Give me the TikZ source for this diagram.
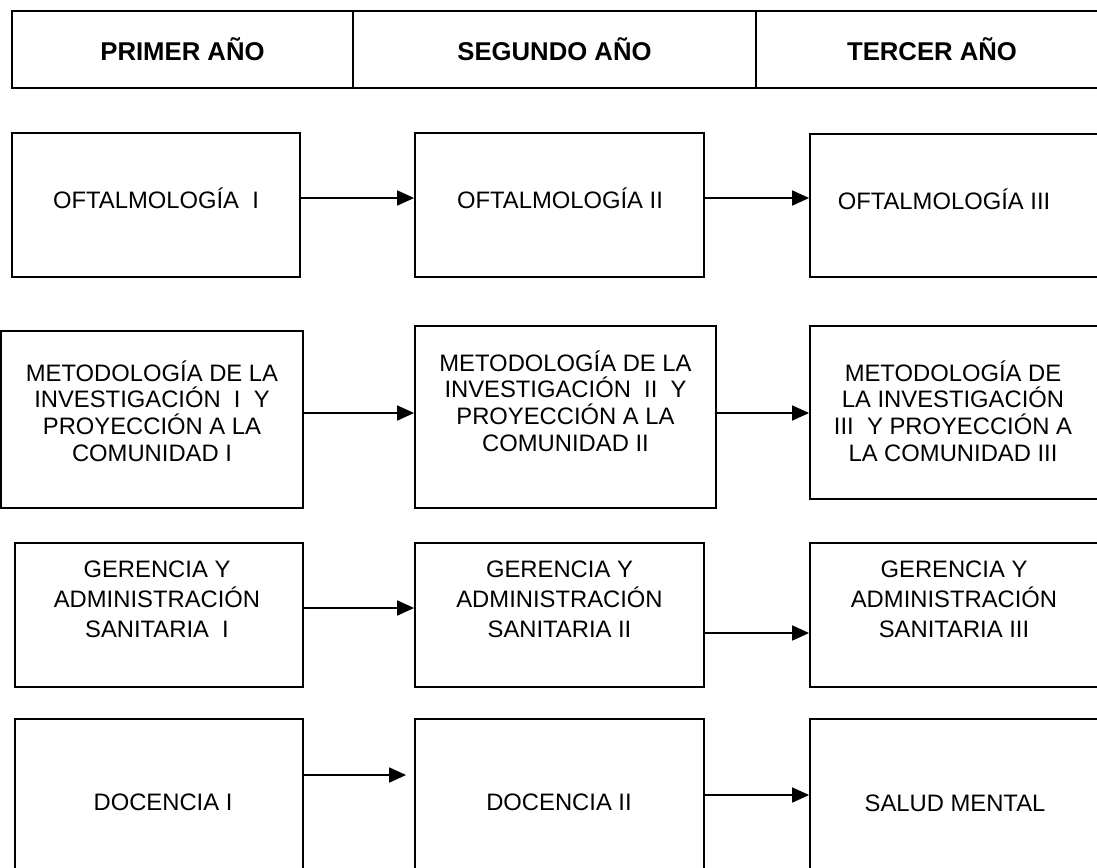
\documentclass[tikz,border=0pt]{standalone}
\usepackage{fontspec}
\setmainfont{Liberation Sans}
\usetikzlibrary{arrows.meta}

\tikzset{
	caja/.style={draw, line width=1.8pt, inner sep=0pt},
	texto/.style={align=center, inner sep=0pt, font=\fontsize{23.8}{26.7}\selectfont},
	textob/.style={align=center, inner sep=0pt, font=\fontsize{23.8}{30}\selectfont},
	cabeza/.style={draw, line width=2pt, minimum height=77pt, inner sep=0pt, font=\bfseries\fontsize{25.7}{30}\selectfont},
	flecha/.style={-{Triangle[length=17pt,width=15pt]}, line width=1.7pt}
}

\begin{document}
\begin{tikzpicture}[x=1pt,y=-1pt]
	\useasboundingbox (0,0) rectangle (1097,867);
	\clip (0,0) rectangle (1097,867);

	\node[cabeza, minimum width=341pt] (h1) at (182.5,49.5) {PRIMER AÑO};
	\node[cabeza, minimum width=403pt] (h2) at (554.5,49.5) {SEGUNDO AÑO};
	\node[cabeza, minimum width=352pt] (h3) at (932,49.5) {TERCER AÑO};

	\node[caja, minimum width=288pt, minimum height=144pt] (b11) at (156,205) {};
	\node[caja, minimum width=289pt, minimum height=144pt] (b12) at (559.5,205) {};
	\node[caja, minimum width=290pt, minimum height=143pt] (b13) at (955,205.5) {};
	\node[caja, minimum width=302pt, minimum height=177pt] (b21) at (152,419.5) {};
	\node[caja, minimum width=301pt, minimum height=182pt] (b22) at (565.5,417) {};
	\node[caja, minimum width=290pt, minimum height=173pt] (b23) at (955,412.5) {};
	\node[caja, minimum width=288pt, minimum height=144pt] (b31) at (159,615) {};
	\node[caja, minimum width=289pt, minimum height=144pt] (b32) at (559.5,615) {};
	\node[caja, minimum width=290pt, minimum height=144pt] (b33) at (955,615) {};
	\node[caja, minimum width=288pt, minimum height=171pt] (b41) at (159,804.5) {};
	\node[caja, minimum width=289pt, minimum height=171pt] (b42) at (559.5,804.5) {};
	\node[caja, minimum width=290pt, minimum height=171pt] (b43) at (955,804.5) {};

	\node[texto] (t11) at (156,198) {OFTALMOLOGÍA\ \ I};
	\node[texto] (t12) at (560,198) {OFTALMOLOGÍA II};
	\node[texto] (t13) at (944,199) {OFTALMOLOGÍA III};
	\node[texto] (t21) at (152,411) {METODOLOGÍA DE LA\\INVESTIGACIÓN\ \ I\ \ Y\\PROYECCIÓN A LA\\COMUNIDAD I};
	\node[texto] (t22) at (565.5,401) {METODOLOGÍA DE LA\\INVESTIGACIÓN\ \ II\ \ Y\\PROYECCIÓN A LA\\COMUNIDAD II};
	\node[texto] (t23) at (953,411) {METODOLOGÍA DE\\LA INVESTIGACIÓN\\III\ \ Y PROYECCIÓN A\\LA COMUNIDAD III};
	\node[textob] (t31) at (157,599) {GERENCIA Y\\ADMINISTRACIÓN\\SANITARIA\ \ I};
	\node[textob] (t32) at (559.5,599) {GERENCIA Y\\ADMINISTRACIÓN\\SANITARIA II};
	\node[textob] (t33) at (954,599) {GERENCIA Y\\ADMINISTRACIÓN\\SANITARIA III};
	\node[texto] (t41) at (163,802) {DOCENCIA I};
	\node[texto] (t42) at (559,802) {DOCENCIA II};
	\node[texto] (t43) at (955,803) {SALUD MENTAL};

	\coordinate (f1) at (0,198);
	\coordinate (f2) at (0,413);
	\coordinate (f3) at (0,608);
	\coordinate (f4) at (0,633);
	\coordinate (f5) at (0,775);
	\coordinate (f6) at (0,795);

	\path[flecha]
	(b11.east |- f1) edge (b12.west |- f1)
	(b12.east |- f1) edge (b13.west |- f1)
	(b21.east |- f2) edge (b22.west |- f2)
	(b22.east |- f2) edge (b23.west |- f2)
	(b31.east |- f3) edge (b32.west |- f3)
	(b32.east |- f4) edge (b33.west |- f4)
	(b41.east |- f5) edge [shorten >=8pt] (b42.west |- f5)
	(b42.east |- f6) edge (b43.west |- f6);
\end{tikzpicture}
\end{document}
